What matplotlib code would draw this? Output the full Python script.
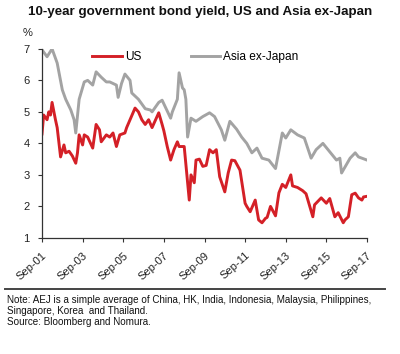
"""10-year government bond yield, US vs Asia ex-Japan (Nomura style)."""
import matplotlib

matplotlib.use("Agg")
import matplotlib.pyplot as plt
import pandas as pd

plt.rcParams["font.family"] = ["Liberation Sans", "DejaVu Sans"]

# values (% yield)
us_dates = [
    "2001-09", "2001-10", "2001-12", "2002-01", "2002-02", "2002-03", "2002-05", "2002-06",
    "2002-08", "2002-10", "2002-11", "2003-01", "2003-03", "2003-05", "2003-06", "2003-07",
    "2003-09", "2003-10", "2003-12", "2004-03", "2004-05", "2004-07", "2004-08", "2004-11",
    "2005-01", "2005-03", "2005-05", "2005-07", "2005-10", "2005-11", "2006-01", "2006-04",
    "2006-06", "2006-08", "2006-10", "2006-12", "2007-02", "2007-06", "2007-08", "2007-09",
    "2007-11", "2008-01", "2008-03", "2008-05", "2008-06", "2008-09", "2008-12", "2009-01",
    "2009-03", "2009-04", "2009-06", "2009-08", "2009-10", "2009-12", "2010-02", "2010-04",
    "2010-06", "2010-09", "2010-11", "2011-01", "2011-03", "2011-06", "2011-09", "2011-10",
    "2011-12", "2012-03", "2012-05", "2012-07", "2012-09", "2012-10", "2012-12", "2013-03",
    "2013-05", "2013-07", "2013-09", "2013-12", "2014-01", "2014-04", "2014-07", "2014-09",
    "2015-01", "2015-02", "2015-06", "2015-09", "2015-11", "2016-02", "2016-04", "2016-07",
    "2016-08", "2016-10", "2016-12", "2017-02", "2017-04", "2017-06", "2017-07", "2017-09",
]
us_yield = [
    4.3, 4.9, 4.75, 5.0, 4.9, 5.3, 4.75, 4.5,
    3.57, 3.95, 3.7, 3.75, 3.6, 3.37, 3.7, 4.27,
    3.95, 4.27, 4.2, 3.85, 4.6, 4.43, 4.05, 4.27,
    4.2, 4.33, 3.9, 4.27, 4.33, 4.5, 4.75, 5.12,
    5.0, 4.75, 4.6, 4.75, 4.5, 4.97, 4.6, 4.4,
    3.9, 3.47, 3.8, 4.05, 3.9, 3.9, 2.2, 3.0,
    2.75, 3.47, 3.5, 3.27, 3.3, 3.8, 3.7, 3.8,
    2.94, 2.46, 3.06, 3.47, 3.45, 3.15, 2.1, 2.0,
    1.83, 2.2, 1.57, 1.48, 1.62, 1.65, 2.0, 1.7,
    2.43, 2.7, 2.6, 3.0, 2.65, 2.6, 2.5, 2.4,
    1.67, 2.05, 2.27, 2.1, 2.25, 1.67, 1.8, 1.48,
    1.57, 1.67, 2.37, 2.42, 2.27, 2.2, 2.3, 2.32,
]

aej_dates = [
    "2001-09", "2001-12", "2002-03", "2002-06", "2002-09", "2002-11", "2003-02", "2003-04",
    "2003-05", "2003-07", "2003-10", "2003-12", "2004-03", "2004-05", "2004-08", "2004-11",
    "2005-01", "2005-05", "2005-06", "2005-08", "2005-10", "2006-01", "2006-02", "2006-06",
    "2006-10", "2007-01", "2007-02", "2007-06", "2007-08", "2008-01", "2008-02", "2008-05",
    "2008-06", "2008-08", "2008-09", "2008-10", "2008-11", "2009-01", "2009-04", "2009-08",
    "2009-12", "2010-03", "2010-07", "2010-09", "2010-12", "2011-04", "2011-07", "2011-10",
    "2012-01", "2012-04", "2012-07", "2012-11", "2013-03", "2013-07", "2013-09", "2013-12",
    "2014-04", "2014-08", "2014-12", "2015-03", "2015-07", "2015-10", "2016-03", "2016-05",
    "2016-06", "2016-11", "2017-02", "2017-04", "2017-09",
]
aej_yield = [
    6.97, 6.75, 7.0, 6.55, 5.7, 5.4, 5.06, 4.75,
    4.33, 5.4, 5.95, 6.0, 5.85, 6.27, 6.1, 5.95,
    5.95, 5.85, 5.46, 5.9, 6.2, 6.0, 5.6, 5.4,
    5.1, 5.06, 5.0, 5.3, 5.37, 4.8, 5.0, 5.4,
    6.24, 5.76, 5.7, 5.4, 4.2, 4.8, 4.7, 4.85,
    4.97, 4.85, 4.43, 4.1, 4.7, 4.45, 4.2, 4.0,
    3.7, 3.85, 3.53, 3.47, 3.2, 4.33, 4.17, 4.43,
    4.27, 4.17, 3.53, 3.8, 4.0, 3.8, 3.47, 3.53,
    3.06, 3.53, 3.7, 3.57, 3.47,
]

tick_years = list(range(2001, 2018, 2))

RED = "#d42027"
GREY = "#a3a3a3"


def main() -> None:
    us = pd.Series(us_yield, index=pd.to_datetime(us_dates))
    aej = pd.Series(aej_yield, index=pd.to_datetime(aej_dates))

    fig = plt.figure(figsize=(4.0, 3.54), dpi=100)
    ax = fig.add_axes([0.105, 0.328, 0.8125, 0.534])

    ax.plot(us.index, us.values, color=RED, lw=2.1, label="US")
    ax.plot(aej.index, aej.values, color=GREY, lw=2.1, label="Asia ex-Japan")

    ax.set_ylim(1, 7)
    ax.set_yticks(range(1, 8))
    ax.set_xlim(pd.Timestamp("2001-09-01"), pd.Timestamp("2017-09-01"))
    ticks = [pd.Timestamp(f"{y}-09-01") for y in tick_years]
    ax.set_xticks(ticks)
    ax.set_xticklabels([f"Sep-{y % 100:02d}" for y in tick_years],
                       rotation=42, ha="right", rotation_mode="anchor")
    ax.tick_params(axis="both", labelsize=8, length=3, width=0.8,
                   color="#333333", labelcolor="#222222")
    ax.tick_params(axis="x", pad=6)
    ax.tick_params(axis="y", pad=6)
    for s in ("top", "right"):
        ax.spines[s].set_visible(False)
    for s in ("left", "bottom"):
        ax.spines[s].set_color("#333333")
        ax.spines[s].set_linewidth(0.9)

    ax.legend(loc="center left", bbox_to_anchor=(0.155, 0.958), ncol=2,
              frameon=False, fontsize=8.6, handlelength=2.5, handletextpad=0.25,
              columnspacing=4.1, borderpad=0, borderaxespad=0)

    fig.text(0.5, 0.966, "10-year government bond yield, US and Asia ex-Japan",
             ha="center", va="center", fontsize=9.6, fontweight="bold", color="#111111")
    fig.text(0.068, 0.907, "%", ha="center", va="center", fontsize=8, color="#222222")

    fig.add_artist(plt.Line2D([0.012, 0.962], [0.184, 0.184], color="#444444", lw=1.4))
    note = ("Note: AEJ is a simple average of China, HK, India, Indonesia, Malaysia, Philippines,\n"
            "Singapore, Korea  and Thailand.\n"
            "Source: Bloomberg and Nomura.")
    fig.text(0.017, 0.167, note, ha="left", va="top", fontsize=7.1,
             linespacing=1.15, color="#111111")

    fig.savefig("out.png", dpi=100)
    plt.close(fig)


if __name__ == "__main__":
    main()
